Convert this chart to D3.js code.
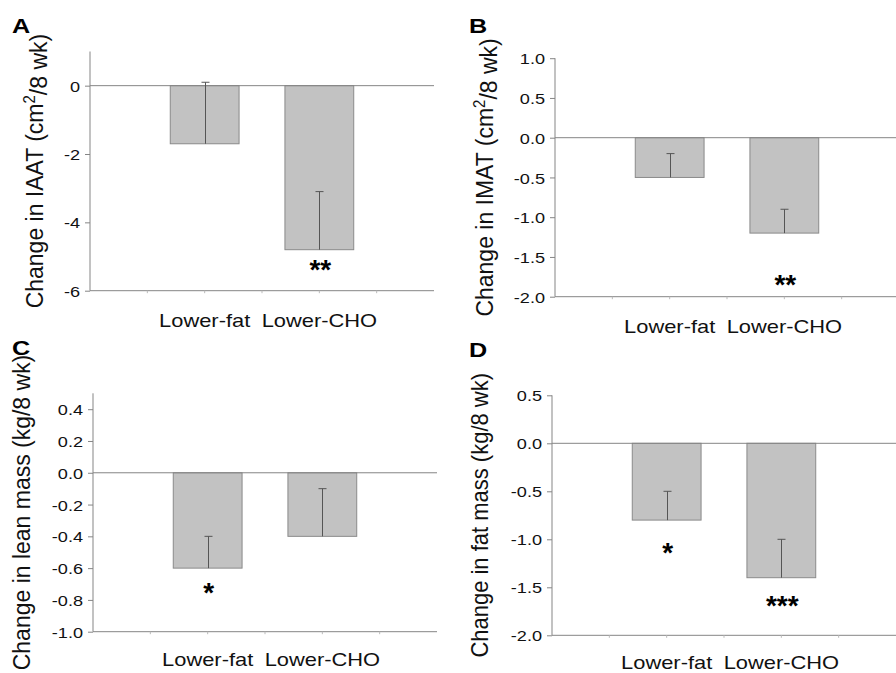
<!DOCTYPE html>
<html>
<head>
<meta charset="utf-8">
<script src="https://cdn.jsdelivr.net/npm/d3@7"></script>
<style>
  html, body { margin: 0; padding: 0; background: #fff; }
  svg { display: block; font-family: "Liberation Sans", Arial, Helvetica, sans-serif; }
</style>
</head>
<body>
<svg id="chart" width="896" height="673"></svg>
<script>
// ---- Data ----
const categories = ["Lower-fat", "Lower-CHO"];

const panelLetters = ["A", "B", "C", "D"];
const yTitles = [
  ["Change in IAAT (cm", "2", "/8 wk)"],
  ["Change in IMAT (cm", "2", "/8 wk)"],
  ["Change in lean mass (kg/8 wk)"],
  ["Change in fat mass (kg/8 wk)"]
];

const meansA = [-1.7, -4.8];
const errTopA = [0.1, -3.1];
const meansB = [-0.5, -1.2];
const errTopB = [-0.2, -0.9];
const meansC = [-0.6, -0.4];
const errTopC = [-0.4, -0.1];
const meansD = [-0.8, -1.4];
const errTopD = [-0.5, -1.0];

const yDomainA = [-6, 1];
const yDomainB = [-2, 1];
const yDomainC = [-1, 0.5];
const yDomainD = [-2, 0.5];

const yTicksA = [0, -2, -4, -6];
const yTicksB = [1.0, 0.5, 0.0, -0.5, -1.0, -1.5, -2.0];
const yTicksC = [0.4, 0.2, 0.0, -0.2, -0.4, -0.6, -0.8, -1.0];
const yTicksD = [0.5, 0.0, -0.5, -1.0, -1.5, -2.0];
const tickDecimals = [0, 1, 1, 1];

// significance markers: [category index, label, y value where drawn]
const starsA = [[1, "**", -5.2]];
const starsB = [[1, "**", -1.76]];
const starsC = [[0, "*", -0.713]];
const starsD = [[0, "*", -1.07], [1, "***", -1.62]];

// ---- Layout (pixel geometry only) ----
const layouts = [
  { x0: 90,  x1: 434, yTop: 51.5,  yBot: 290.7, letter: [12, 33],  titleX: 43,  titleSize: 23,   labelGap: 36 },
  { x0: 555, x1: 899, yTop: 58.2,  yBot: 296.7, letter: [469, 33], titleX: 493, titleSize: 23,   labelGap: 36 },
  { x0: 93,  x1: 437, yTop: 393.3, yBot: 631.7, letter: [12, 355], titleX: 30,  titleSize: 23,   labelGap: 34 },
  { x0: 552, x1: 896, yTop: 395.3, yBot: 635.3, letter: [469, 357], titleX: 488, titleSize: 22,  labelGap: 34 }
];

const panels = [
  { means: meansA, errs: errTopA, dom: yDomainA, ticks: yTicksA, stars: starsA },
  { means: meansB, errs: errTopB, dom: yDomainB, ticks: yTicksB, stars: starsB },
  { means: meansC, errs: errTopC, dom: yDomainC, ticks: yTicksC, stars: starsC },
  { means: meansD, errs: errTopD, dom: yDomainD, ticks: yTicksD, stars: starsD }
];

const svg = d3.select("#chart");
const AXIS = "#858585";
const BAR_FILL = "#c2c2c2";
const BAR_STROKE = "#8a8a8a";
const ERR = "#555";
const TXT = "#111";
const catPos = [2, 4];   // category centres on a 0..6 band axis
const barW = 1.2;

panels.forEach((p, i) => {
  const L = layouts[i];
  const g = svg.append("g");
  const x = d3.scaleLinear().domain([0, 6]).range([L.x0, L.x1]);
  const y = d3.scaleLinear().domain(p.dom).range([L.yBot, L.yTop]);

  // y axis
  const fmt = d3.format("." + tickDecimals[i] + "f");
  const yAxis = d3.axisLeft(y).tickValues(p.ticks).tickSize(5).tickSizeOuter(0)
    .tickFormat(d => fmt(d).replace("−", "-"));
  const ya = g.append("g").attr("transform", `translate(${L.x0},0)`).call(yAxis);
  ya.select(".domain").attr("stroke", AXIS).attr("d", `M0.5,${L.yTop}V${L.yBot}`)
    .attr("transform", "translate(-0.5,0)");
  ya.selectAll(".tick line").attr("stroke", AXIS);
  ya.selectAll(".tick text")
    .attr("x", -10 / 1.17)
    .attr("dy", "0.36em")
    .attr("transform", "scale(1.17,1)")
    .attr("fill", TXT)
    .style("font-size", "15.5px")
    .style("font-family", '"Liberation Sans", Arial, sans-serif');

  // x axis (bottom) with small minor ticks
  g.append("line").attr("x1", L.x0).attr("x2", L.x1)
    .attr("y1", L.yBot).attr("y2", L.yBot).attr("stroke", AXIS);
  [1, 2, 3, 4, 5].forEach(t => {
    g.append("line").attr("x1", x(t)).attr("x2", x(t))
      .attr("y1", L.yBot).attr("y2", L.yBot + 2.5).attr("stroke", "#bbb");
  });

  // bars
  g.selectAll("rect.bar").data(p.means).enter().append("rect")
    .attr("class", "bar")
    .attr("x", (d, j) => x(catPos[j] - barW / 2))
    .attr("width", x(barW) - x(0))
    .attr("y", d => y(Math.max(0, d)))
    .attr("height", d => Math.abs(y(d) - y(0)))
    .attr("fill", BAR_FILL).attr("stroke", BAR_STROKE).attr("stroke-width", 1);

  // zero line
  g.append("line").attr("x1", L.x0).attr("x2", L.x1)
    .attr("y1", y(0)).attr("y2", y(0)).attr("stroke", AXIS);

  // error bars
  p.means.forEach((m, j) => {
    const cx = Math.round(x(catPos[j])) + 0.5;
    g.append("line").attr("x1", cx).attr("x2", cx)
      .attr("y1", y(m)).attr("y2", y(p.errs[j])).attr("stroke", ERR);
    g.append("line").attr("x1", cx - 4).attr("x2", cx + 4)
      .attr("y1", y(p.errs[j])).attr("y2", y(p.errs[j])).attr("stroke", ERR);
  });

  // category labels
  categories.forEach((c, j) => {
    g.append("text")
      .attr("transform", `translate(${x(catPos[j])},${L.yBot + L.labelGap}) scale(1.25,1)`)
      .attr("text-anchor", "middle")
      .attr("fill", TXT)
      .style("font-size", "17.5px")
      .text(c);
  });

  // significance stars
  p.stars.forEach(s => {
    g.append("text")
      .attr("x", x(catPos[s[0]]) + 1)
      .attr("y", y(s[2]) + 16)
      .attr("text-anchor", "middle")
      .attr("fill", "#000")
      .style("font-size", "28px")
      .style("font-weight", "bold")
      .text(s[1]);
  });

  // panel letter
  g.append("text")
    .attr("transform", `translate(${L.letter[0]},${L.letter[1]}) scale(1.2,1)`)
    .attr("fill", "#000")
    .style("font-size", "21px")
    .style("font-weight", "bold")
    .text(panelLetters[i]);

  // y title
  const cy = (L.yTop + L.yBot) / 2;
  const t = g.append("text")
    .attr("transform", `translate(${L.titleX},${cy}) rotate(-90) scale(1,1.08)`)
    .attr("text-anchor", "middle")
    .attr("fill", TXT)
    .style("font-size", L.titleSize + "px");
  const parts = yTitles[i];
  t.append("tspan").text(parts[0]);
  if (parts.length > 1) {
    t.append("tspan").attr("dy", "-0.5em").style("font-size", "15px").text(parts[1]);
    t.append("tspan").attr("dy", "0.5em").text(parts[2]);
  }
});
</script>
</body>
</html>
